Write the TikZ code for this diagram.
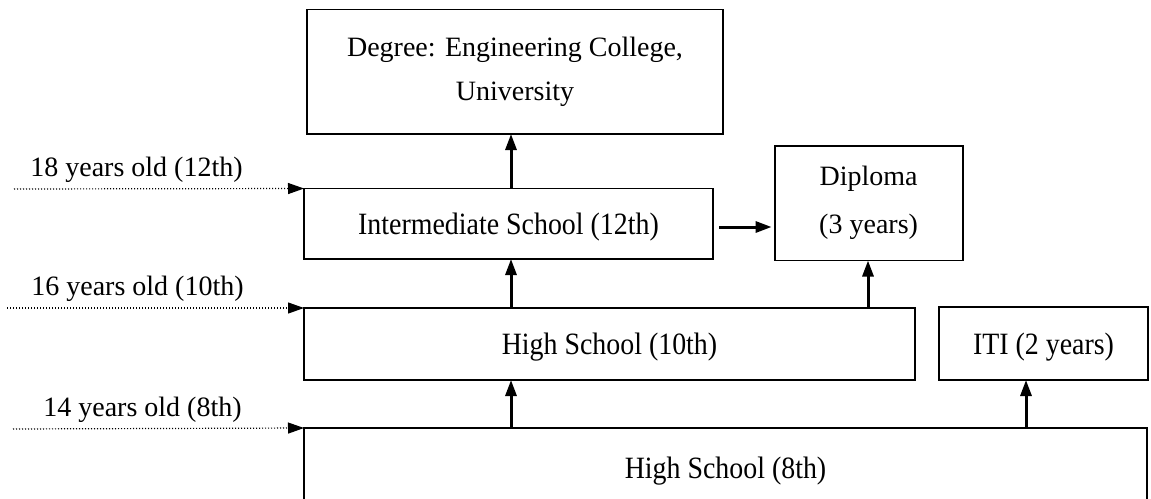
\documentclass[tikz,border=0pt]{standalone}
\usepackage{fontspec}
\setmainfont{Liberation Serif}
\newfontfamily\boxfont[FakeStretch=0.9]{Liberation Serif}
\usetikzlibrary{arrows.meta}
\tikzset{
  box/.style={draw=black, line width=1.8pt, inner sep=0pt, outer sep=0pt,
    font=\fontsize{28}{43.5}\selectfont, align=center},
  onebox/.style={box, font=\boxfont\fontsize{31}{36}\selectfont,
    text height=28pt, text depth=6.7pt},
  lbl/.style={inner sep=0pt, font=\fontsize{28}{33}\selectfont},
  arr/.style={draw=black, line width=3pt, -{Triangle[length=16pt,width=11pt]}},
  dotarr/.style={draw=black, line width=1.2pt, dash pattern=on 1.2pt off 1.8pt,
    -{Triangle[length=16pt,width=11pt]}}
}
\begin{document}
\begin{tikzpicture}[x=1pt,y=-1pt]
\useasboundingbox (0,0) rectangle (1151,498);
\clip (0,0) rectangle (1151,498);
% boxes
\node[box, minimum width=416pt, minimum height=124.5pt] (deg) at (515,71.75)
  {Degree: Engineering College,\\University};
\node[onebox, minimum width=409pt, minimum height=70.5pt] (inter) at (508.5,223.75)
  {Intermediate School (12th)};
\node[box, minimum width=188pt, minimum height=114.5pt,
  font=\fontsize{28}{48}\selectfont] (dip) at (868.6,203.25)
  {Diploma\\(3 years)};
\node[onebox, minimum width=611pt, minimum height=72pt] (hs10) at (609.5,344)
  {High School (10th)};
\node[onebox, minimum width=209pt, minimum height=73pt] (iti) at (1043.5,343.5)
  {ITI (2 years)};
\node[onebox, minimum width=843pt, minimum height=80pt] (hs8) at (725.5,468)
  {High School (8th)};
% age labels
\node[lbl] (l18) at (136.5,169.5) {18 years old (12th)};
\node[lbl] (l16) at (137.5,288.5) {16 years old (10th)};
\node[lbl] (l14) at (142.5,410) {14 years old (8th)};
% helper coordinates
\coordinate (xa) at (511,0);
\coordinate (xd) at (868,0);
\coordinate (xi) at (1026,0);
\coordinate (ya) at (0,227);
\coordinate (s18) at (14,189);
\coordinate (s16) at (7,308);
\coordinate (s14) at (13,429);
% dotted age arrows
\draw[dotarr] (s18) -- (inter.north west);
\draw[dotarr] (s16) -- (hs10.north west);
\draw[dotarr] (s14) -- (hs8.north west);
% solid arrows
\draw[arr] (inter.north -| xa) -- (deg.south -| xa);
\draw[arr, shorten <=6pt, shorten >=3pt] (inter.east |- ya) -- (dip.west |- ya);
\draw[arr] (hs10.north -| xa) -- (inter.south -| xa);
\draw[arr] (hs10.north -| xd) -- (dip.south -| xd);
\draw[arr] (hs8.north -| xa) -- (hs10.south -| xa);
\draw[arr] (hs8.north -| xi) -- (iti.south -| xi);
\end{tikzpicture}
\end{document}
